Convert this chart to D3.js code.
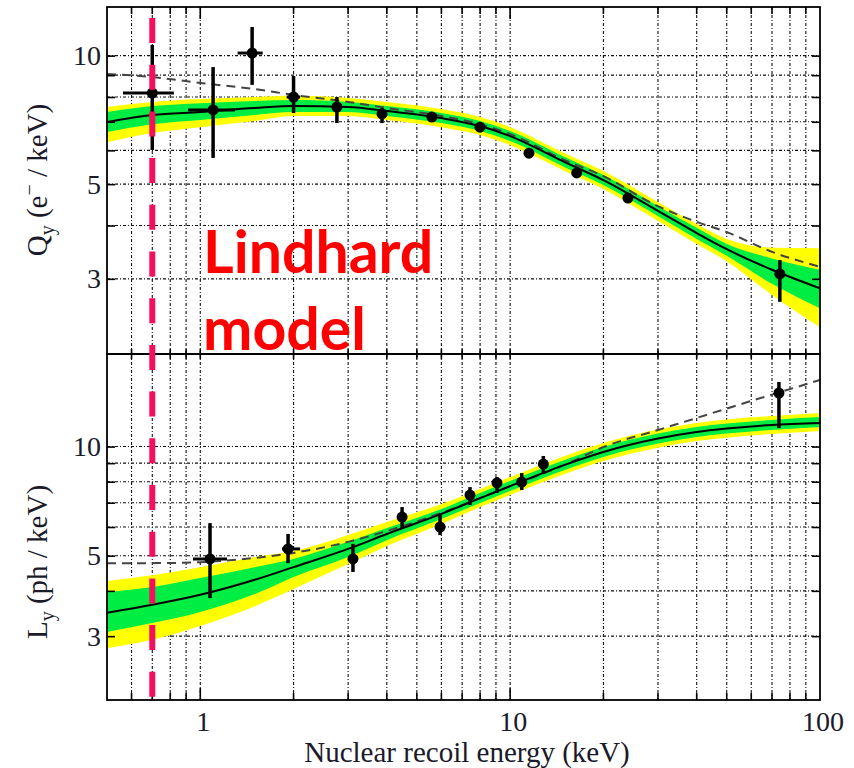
<!DOCTYPE html>
<html>
<head>
<meta charset="utf-8">
<script src="https://cdn.jsdelivr.net/npm/d3@7"></script>
<style>
  body { margin: 0; background: #fff; }
</style>
</head>
<body>
<div id="chart"></div>
<script>
var energies = [0.5, 0.7, 1, 1.5, 2, 3, 4, 6, 8, 10, 15, 20, 30, 40, 50, 70, 100];

// charge yield Qy (e-/keV): fit, 1 sigma (green) and 2 sigma (yellow) bands, dashed curve
var qyFit      = [6.99, 7.26, 7.38, 7.54, 7.62, 7.58, 7.42, 7.14, 6.84, 6.48, 5.63, 5.11, 4.33, 3.84, 3.52, 3.15, 2.85];
var qyYellowHi = [7.58, 7.79, 7.91, 8.00, 8.05, 7.96, 7.79, 7.50, 7.18, 6.80, 5.91, 5.37, 4.54, 4.03, 3.72, 3.55, 3.54];
var qyGreenHi  = [7.38, 7.62, 7.74, 7.83, 7.87, 7.79, 7.62, 7.34, 7.03, 6.66, 5.79, 5.25, 4.44, 3.95, 3.62, 3.35, 3.15];
var qyGreenLo  = [6.62, 6.91, 7.07, 7.26, 7.38, 7.38, 7.22, 6.95, 6.66, 6.31, 5.48, 4.98, 4.21, 3.72, 3.40, 2.92, 2.56];
var qyYellowLo = [6.27, 6.59, 6.80, 7.03, 7.22, 7.22, 7.07, 6.80, 6.52, 6.17, 5.37, 4.87, 4.10, 3.62, 3.30, 2.75, 2.31];
var qyDashed   = [9.06, 8.91, 8.63, 8.35, 8.09, 7.79, 7.54, 7.22, 6.91, 6.55, 5.69, 5.22, 4.44, 4.08, 3.86, 3.47, 3.20];

// light yield Ly (ph/keV)
var lyFit      = [3.48, 3.66, 3.90, 4.29, 4.65, 5.22, 5.74, 6.52, 7.21, 7.78, 8.90, 9.66, 10.52, 10.97, 11.21, 11.47, 11.61];
var lyYellowHi = [4.26, 4.42, 4.65, 4.96, 5.15, 5.70, 6.19, 6.94, 7.64, 8.24, 9.42, 10.23, 11.14, 11.61, 11.87, 12.14, 12.38];
var lyGreenHi  = [3.97, 4.10, 4.34, 4.65, 4.90, 5.46, 5.96, 6.73, 7.45, 8.04, 9.18, 9.97, 10.86, 11.32, 11.57, 11.84, 12.06];
var lyGreenLo  = [3.08, 3.26, 3.50, 3.92, 4.37, 4.96, 5.52, 6.31, 6.99, 7.54, 8.62, 9.36, 10.19, 10.63, 10.86, 11.11, 11.32];
var lyYellowLo = [2.78, 2.93, 3.20, 3.63, 4.05, 4.74, 5.32, 6.12, 6.81, 7.35, 8.40, 9.12, 9.93, 10.36, 10.58, 10.83, 11.04];
var lyDashed   = [4.77, 4.77, 4.80, 4.93, 5.09, 5.46, 5.85, 6.56, 7.21, 7.78, 8.90, 9.97, 11.11, 11.99, 12.73, 13.91, 15.26];

// Qy measurements: energy, value, vertical error ends, horizontal error ends (null = none)
var qyE     = [0.70, 1.10, 1.47, 2.0, 2.76, 3.86, 5.59, 7.99, 11.5, 16.4, 24.0, 74.2];
var qyVal   = [8.17, 7.46, 10.14, 8.00, 7.58, 7.30, 7.18, 6.80, 5.91, 5.31, 4.64, 3.08];
var qyHi    = [10.59, 9.40, 11.67, 8.96, 8.00, 7.54, 7.34, 6.91, 6.00, 5.40, 4.72, 3.32];
var qyLo    = [6.01, 5.76, 8.54, 7.34, 6.95, 6.95, 7.03, 6.69, 5.83, 5.22, 4.57, 2.65];
var qyEMin  = [0.563, 0.913, 1.32, 1.90, null, null, null, null, null, null, null, null];
var qyEMax  = [0.822, 1.294, 1.59, 2.10, null, null, null, null, null, null, null, null];

// Ly measurements
var lyE     = [1.075, 1.92, 3.11, 4.48, 5.94, 7.42, 9.07, 10.9, 12.8, 73.7];
var lyVal   = [4.90, 5.22, 4.90, 6.39, 6.00, 7.35, 7.94, 7.98, 8.95, 14.05];
var lyHi    = [6.15, 5.74, 5.39, 6.81, 6.48, 7.73, 8.24, 8.45, 9.42, 15.07];
var lyLo    = [3.82, 4.77, 4.51, 5.96, 5.70, 6.90, 7.45, 7.59, 8.45, 11.25];
var lyEMin  = [0.947, 1.835, null, null, null, null, null, null, null, null];
var lyEMax  = [1.22, 2.10, null, null, null, null, null, null, null, null];

// axis ticks and grid
var xGrid   = [0.6, 0.7, 0.8, 0.9, 1, 2, 3, 4, 5, 6, 7, 8, 9, 10, 20, 30, 40, 50, 60, 70, 80, 90];
var xMajor  = [1, 10];
var xLabels = [1, 10, 100];
var yGrid   = [3, 4, 5, 6, 7, 8, 9, 10];
var yLabels = [3, 5, 10];

var threshold = 0.7; // keV, marked by the dashed red line

var W = 854, H = 768;
var left = 107, right = 820;
var serif = "'Liberation Serif', 'Times New Roman', Times, serif";
var ink = "#1a1a2a";

var svg = d3.select("#chart").append("svg")
  .attr("width", W)
  .attr("height", H);

var x = d3.scaleLog().domain([0.5, 100]).range([left, right]);
var yQ = d3.scaleLog().domain([2, 13]).range([354, 7]);
var yL = d3.scaleLog().domain([2, 18]).range([700, 354]);

var panels = [
  {id: "q", y: yQ, top: 7, bottom: 354,
   fit: qyFit, yHi: qyYellowHi, gHi: qyGreenHi, gLo: qyGreenLo, yLo: qyYellowLo, dashed: qyDashed,
   pE: qyE, pV: qyVal, pHi: qyHi, pLo: qyLo, pMin: qyEMin, pMax: qyEMax},
  {id: "l", y: yL, top: 354, bottom: 700,
   fit: lyFit, yHi: lyYellowHi, gHi: lyGreenHi, gLo: lyGreenLo, yLo: lyYellowLo, dashed: lyDashed,
   pE: lyE, pV: lyVal, pHi: lyHi, pLo: lyLo, pMin: lyEMin, pMax: lyEMax}
];

var defs = svg.append("defs");

panels.forEach(function(p) {
  defs.append("clipPath").attr("id", "clip-" + p.id)
    .append("rect")
    .attr("x", left).attr("y", p.top)
    .attr("width", right - left).attr("height", p.bottom - p.top);

  var g = svg.append("g").attr("clip-path", "url(#clip-" + p.id + ")");

  // dotted grid
  g.selectAll("line.vgrid").data(xGrid).enter().append("line")
    .attr("x1", function(d) { return x(d); })
    .attr("x2", function(d) { return x(d); })
    .attr("y1", p.top).attr("y2", p.bottom)
    .style("stroke", "#111").style("stroke-width", 1.1)
    .style("stroke-dasharray", "3,2,1,2");
  g.selectAll("line.hgrid").data(yGrid).enter().append("line")
    .attr("x1", left).attr("x2", right)
    .attr("y1", function(d) { return p.y(d); })
    .attr("y2", function(d) { return p.y(d); })
    .style("stroke", "#111").style("stroke-width", 1.1)
    .style("stroke-dasharray", "3,2,1,2");

  var idx = d3.range(energies.length);
  var band = function(hi, lo) {
    return d3.area()
      .curve(d3.curveMonotoneX)
      .x(function(i) { return x(energies[i]); })
      .y0(function(i) { return p.y(lo[i]); })
      .y1(function(i) { return p.y(hi[i]); })(idx);
  };
  var curve = function(vals) {
    return d3.line()
      .curve(d3.curveMonotoneX)
      .x(function(i) { return x(energies[i]); })
      .y(function(i) { return p.y(vals[i]); })(idx);
  };

  g.append("path").attr("d", band(p.yHi, p.yLo)).style("fill", "#ffff00");
  g.append("path").attr("d", band(p.gHi, p.gLo)).style("fill", "#00ee44");

  g.append("path").attr("d", curve(p.dashed))
    .style("fill", "none").style("stroke", "#444")
    .style("stroke-width", 2).style("stroke-dasharray", "9,6");
  g.append("path").attr("d", curve(p.fit))
    .style("fill", "none").style("stroke", "#000").style("stroke-width", 2);

  // measured points
  var pts = d3.range(p.pE.length);
  g.selectAll("line.ey").data(pts).enter().append("line")
    .attr("x1", function(i) { return x(p.pE[i]); })
    .attr("x2", function(i) { return x(p.pE[i]); })
    .attr("y1", function(i) { return p.y(p.pHi[i]); })
    .attr("y2", function(i) { return p.y(p.pLo[i]); })
    .style("stroke", "#000").style("stroke-width", 3.5);
  g.selectAll("line.ex").data(pts.filter(function(i) { return p.pMin[i] !== null; })).enter().append("line")
    .attr("x1", function(i) { return x(p.pMin[i]); })
    .attr("x2", function(i) { return x(p.pMax[i]); })
    .attr("y1", function(i) { return p.y(p.pV[i]); })
    .attr("y2", function(i) { return p.y(p.pV[i]); })
    .style("stroke", "#000").style("stroke-width", 3);
  g.selectAll("circle").data(pts).enter().append("circle")
    .attr("cx", function(i) { return x(p.pE[i]); })
    .attr("cy", function(i) { return p.y(p.pV[i]); })
    .attr("r", 5.5)
    .style("fill", "#000");

  // frame and y ticks on both sides
  svg.append("rect")
    .attr("x", left).attr("y", p.top)
    .attr("width", right - left).attr("height", p.bottom - p.top)
    .style("fill", "none").style("stroke", "#000").style("stroke-width", 1.8);

  svg.append("g").attr("transform", "translate(" + left + ",0)")
    .call(d3.axisRight(p.y).tickValues(yGrid).tickSize(8).tickFormat(""))
    .call(function(a) { a.select(".domain").remove(); a.selectAll("line").style("stroke-width", 1.6); });
  svg.append("g").attr("transform", "translate(" + right + ",0)")
    .call(d3.axisLeft(p.y).tickValues(yGrid).tickSize(8).tickFormat(""))
    .call(function(a) { a.select(".domain").remove(); a.selectAll("line").style("stroke-width", 1.6); });

  svg.append("g").attr("transform", "translate(" + (left - 6) + ",0)")
    .call(d3.axisLeft(p.y).tickValues(yLabels).tickSize(0).tickPadding(0).tickFormat(d3.format("d")))
    .call(function(a) {
      a.select(".domain").remove();
      a.selectAll("text")
        .attr("font-family", null).attr("font-size", null)
        .style("font-size", "28px").style("font-family", serif).style("fill", ink);
    });
});

// x ticks on the top frame, the panel divider and the bottom axis
var tickLen = function(d) { return xMajor.indexOf(d) >= 0 ? 12 : 7; };
[{y: 7, dir: 1}, {y: 354, dir: -1}, {y: 354, dir: 1}, {y: 700, dir: -1}].forEach(function(t) {
  svg.selectAll(null).data(xGrid).enter().append("line")
    .attr("x1", function(d) { return x(d); })
    .attr("x2", function(d) { return x(d); })
    .attr("y1", t.y)
    .attr("y2", function(d) { return t.y + t.dir * (t.y === 354 ? 5 : tickLen(d)); })
    .style("stroke", "#000").style("stroke-width", 1.6);
});

svg.selectAll("text.xlab").data(xLabels).enter().append("text")
  .attr("x", function(d) { return x(d) + 3; })
  .attr("y", 731)
  .attr("text-anchor", "middle")
  .style("font-family", serif).style("font-size", "28px").style("fill", ink)
  .text(function(d) { return d; });

svg.append("text")
  .attr("x", 467).attr("y", 762)
  .attr("text-anchor", "middle")
  .style("font-family", serif).style("font-size", "29px").style("fill", ink)
  .text("Nuclear recoil energy (keV)");

// y axis titles
var qTitle = svg.append("text")
  .attr("transform", "translate(47,180) rotate(-90)")
  .attr("text-anchor", "middle")
  .style("font-family", serif).style("font-size", "29px").style("fill", ink);
qTitle.append("tspan").text("Q");
qTitle.append("tspan").attr("dy", 7).style("font-size", "20px").text("y");
qTitle.append("tspan").attr("dy", -7).text(" (e");
qTitle.append("tspan").attr("dy", -11).style("font-size", "20px").text("\u2212");
qTitle.append("tspan").attr("dy", 11).text(" / keV)");

var lTitle = svg.append("text")
  .attr("transform", "translate(47,562) rotate(-90)")
  .attr("text-anchor", "middle")
  .style("font-family", serif).style("font-size", "29px").style("fill", ink);
lTitle.append("tspan").text("L");
lTitle.append("tspan").attr("dy", 7).style("font-size", "20px").text("y");
lTitle.append("tspan").attr("dy", -7).text(" (ph / keV)");

// threshold marker
svg.append("line")
  .attr("x1", x(threshold)).attr("x2", x(threshold))
  .attr("y1", 18).attr("y2", 700)
  .style("stroke", "#f5105f").style("stroke-width", 6)
  .style("stroke-dasharray", "25,21.7");

svg.append("text")
  .attr("x", 203).attr("y", 273)
  .style("font-family", "Lato, 'Open Sans', sans-serif")
  .style("font-weight", "bold").style("font-size", "59px").style("fill", "#ff0000")
  .text("Lindhard");
svg.append("text")
  .attr("x", 203).attr("y", 350)
  .style("font-family", "Lato, 'Open Sans', sans-serif")
  .style("font-weight", "bold").style("font-size", "59px").style("fill", "#ff0000")
  .text("model");
</script>
</body>
</html>
